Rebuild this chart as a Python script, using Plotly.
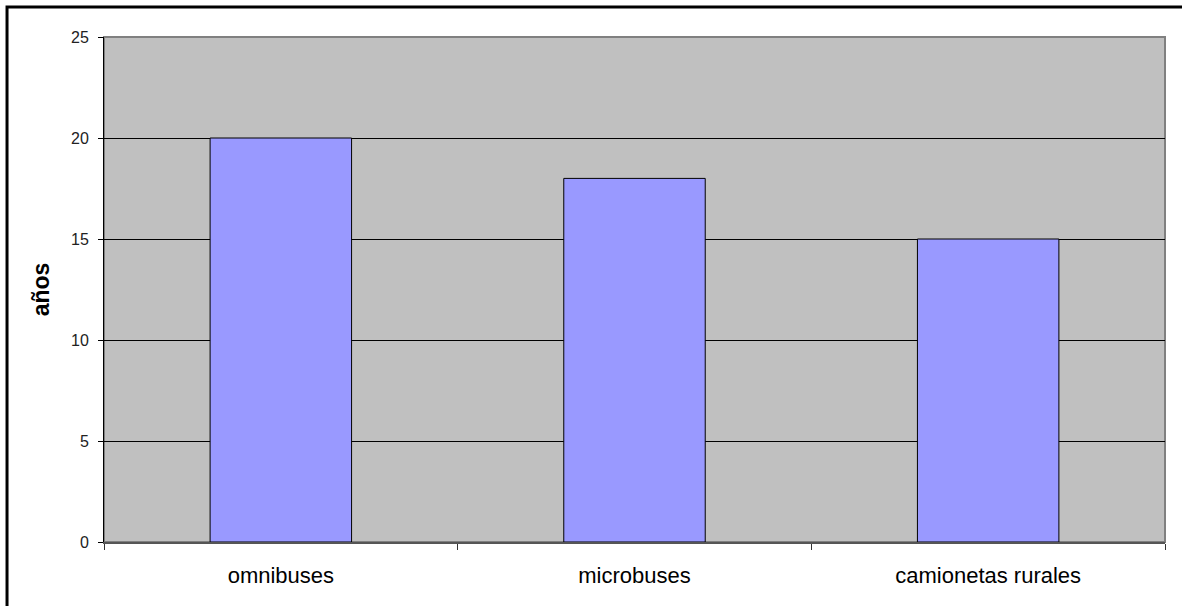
import plotly.graph_objects as go

# Vida útil por tipo de vehículo
categorias = ["omnibuses", "microbuses", "camionetas rurales"]
anios = [20, 18, 15]
y_ticks = [0, 5, 10, 15, 20, 25]

fig = go.Figure(
    go.Bar(
        x=categorias,
        y=anios,
        marker=dict(color="#9999FF", line=dict(color="#000000", width=1)),
        width=0.4,
        hoverinfo="x+y",
    )
)

fig.update_layout(
    width=1182,
    height=606,
    margin=dict(l=104, r=17, t=37, b=64),
    paper_bgcolor="#FFFFFF",
    plot_bgcolor="#C0C0C0",
    font=dict(family="Liberation Sans, Arial, sans-serif", color="#000000"),
    showlegend=False,
    shapes=[
        # marco exterior del gráfico
        dict(type="rect", xref="paper", yref="paper",
             x0=-0.0914, x1=1.05, y0=-0.2, y1=1.0594,
             line=dict(color="#000000", width=3), fillcolor="rgba(0,0,0,0)",
             layer="below"),
        # borde del área de trazado
        dict(type="rect", xref="paper", yref="paper",
             x0=0, x1=1, y0=0, y1=1,
             line=dict(color="#808080", width=2), fillcolor="rgba(0,0,0,0)",
             layer="below"),
    ],
)

fig.update_xaxes(
    type="category",
    tickson="boundaries",
    ticks="outside",
    ticklen=6,
    tickwidth=1,
    tickcolor="#333333",
    showgrid=False,
    showline=True,
    linecolor="#555555",
    linewidth=2,
    tickfont=dict(size=22, color="#000000"),
    ticklabelstandoff=13,
)

fig.update_yaxes(
    range=[0, 25],
    tickvals=y_ticks,
    ticks="outside",
    ticklen=5,
    tickwidth=1,
    tickcolor="#000000",
    showgrid=True,
    gridcolor="#000000",
    gridwidth=1,
    zeroline=False,
    showline=True,
    linecolor="#000000",
    linewidth=1,
    tickfont=dict(size=16, color="#222222"),
    ticklabelstandoff=6,
    title=dict(text="<b>años</b>", font=dict(size=23, color="#000000"), standoff=14),
)

fig.write_html("out.html")
